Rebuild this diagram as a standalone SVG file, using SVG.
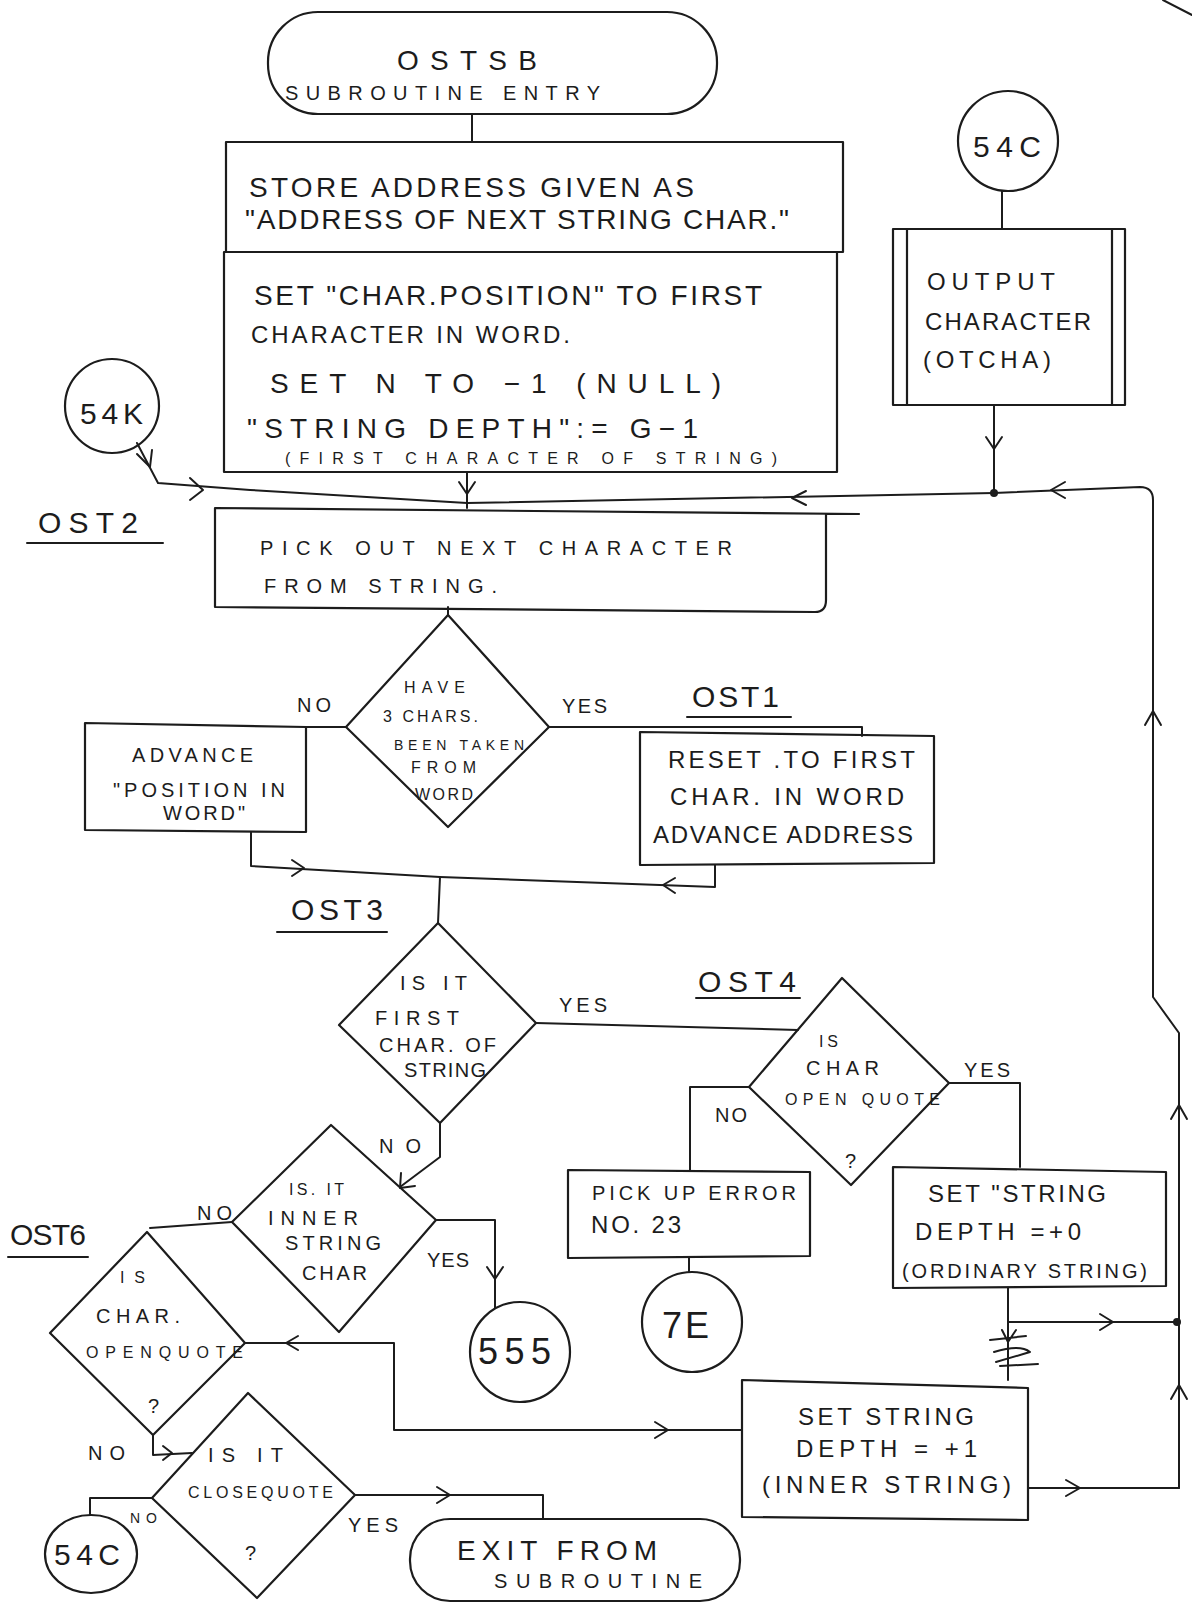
<svg xmlns="http://www.w3.org/2000/svg" width="1192" height="1603" viewBox="0 0 1192 1603">
<defs>
<style>
.s{fill:none;stroke:#1c1c1c;stroke-width:2.2;stroke-linejoin:round;stroke-linecap:round}
.c{fill:none;stroke:#1c1c1c;stroke-width:2;stroke-linejoin:round;stroke-linecap:round}
.dot{fill:#1c1c1c}
text{font-family:"Liberation Sans","DejaVu Sans",sans-serif;fill:#1c1c1c}
.lg{font-size:28px}
.md{font-size:24px}
.sm{font-size:20px}
.xs{font-size:16px}
.lab{font-size:30px}
.big{font-size:36px}
</style>
</defs>
<rect width="1192" height="1603" fill="#ffffff"/>
<path class="c" d="M1163,0 L1192,15"/>

<g id="entry">
<rect class="s" x="268" y="12" width="449" height="102" rx="50"/>
<text class="lg" x="397" y="70" textLength="140" lengthAdjust="spacing">OSTSB</text>
<text class="sm" x="285" y="100" textLength="315" lengthAdjust="spacing">SUBROUTINE ENTRY</text>
</g>

<g id="store">
<rect class="s" x="226" y="142" width="617" height="110"/>
<text class="lg" x="249" y="197" textLength="445" lengthAdjust="spacing">STORE ADDRESS GIVEN AS</text>
<text class="lg" x="245" y="229" textLength="544" lengthAdjust="spacing">"ADDRESS OF NEXT STRING CHAR."</text>
</g>

<g id="setpos">
<rect class="s" x="224" y="252" width="613" height="220"/>
<text class="lg" x="254" y="305" textLength="508" lengthAdjust="spacing">SET "CHAR.POSITION" TO FIRST</text>
<text class="md" x="251" y="343" textLength="319" lengthAdjust="spacing">CHARACTER IN WORD.</text>
<text class="lg" x="270" y="393" textLength="451" lengthAdjust="spacing">SET N TO −1 (NULL)</text>
<text class="lg" x="247" y="438" textLength="451" lengthAdjust="spacing">"STRING DEPTH":= G−1</text>
<text class="xs" x="285" y="464" textLength="492" lengthAdjust="spacing">(FIRST CHARACTER OF STRING)</text>
</g>

<g id="c54c_top">
<circle class="s" cx="1008" cy="141" r="50"/>
<text class="lab" x="973" y="157" textLength="68" lengthAdjust="spacing">54C</text>
</g>

<g id="output">
<rect class="s" x="893" y="229" width="232" height="176"/>
<path class="s" d="M907,229 V405 M1112,229 V405"/>
<text class="md" x="927" y="290" textLength="128" lengthAdjust="spacing">OUTPUT</text>
<text class="md" x="925" y="330" textLength="166" lengthAdjust="spacing">CHARACTER</text>
<text class="md" x="923" y="368" textLength="128" lengthAdjust="spacing">(OTCHA)</text>
</g>

<g id="c54k">
<circle class="s" cx="112" cy="406" r="47"/>
<text class="lab" x="80" y="424" textLength="63" lengthAdjust="spacing">54K</text>
</g>

<g id="ost2">
<text class="lab" x="38" y="533" textLength="100" lengthAdjust="spacing">OST2</text>
<path class="c" d="M27,543 H163"/>
</g>

<g id="pickout">
<path class="s" d="M215,508 L859,514 M215,508 V607 L815,612 Q826,612 826,600 V514"/>
<text class="sm" x="260" y="555" textLength="472" lengthAdjust="spacing">PICK OUT NEXT CHARACTER</text>
<text class="sm" x="264" y="593" textLength="233" lengthAdjust="spacing">FROM STRING.</text>
</g>

<g id="have3">
<path class="s" d="M448,615 L549,727 L448,827 L346,727 Z"/>
<text class="xs" x="404" y="693" textLength="61" lengthAdjust="spacing">HAVE</text>
<text class="xs" x="383" y="722" textLength="95" lengthAdjust="spacing">3 CHARS.</text>
<text style="font-size:14px" x="394" y="750" textLength="130" lengthAdjust="spacing">BEEN TAKEN</text>
<text class="xs" x="411" y="773" textLength="65" lengthAdjust="spacing">FROM</text>
<text class="xs" x="415" y="800" textLength="58" lengthAdjust="spacing">WORD</text>
</g>

<g id="advance">
<path class="s" d="M85,723 L306,727 V832 L85,830 Z"/>
<text class="sm" x="132" y="762" textLength="121" lengthAdjust="spacing">ADVANCE</text>
<text class="sm" x="113" y="797" textLength="172" lengthAdjust="spacing">"POSITION IN</text>
<text class="sm" x="163" y="820" textLength="82" lengthAdjust="spacing">WORD"</text>
</g>

<g id="ost1">
<text class="lab" x="692" y="707" textLength="87" lengthAdjust="spacing">OST1</text>
<path class="c" d="M687,717 H791"/>
</g>

<g id="reset">
<path class="s" d="M640,732 L934,736 V863 L640,865 Z"/>
<text class="md" x="668" y="768" textLength="247" lengthAdjust="spacing">RESET .TO FIRST</text>
<text class="md" x="670" y="805" textLength="234" lengthAdjust="spacing">CHAR. IN WORD</text>
<text class="md" x="653" y="843" textLength="260" lengthAdjust="spacing">ADVANCE ADDRESS</text>
</g>

<g id="ost3">
<text class="lab" x="291" y="920" textLength="92" lengthAdjust="spacing">OST3</text>
<path class="c" d="M277,932 H387"/>
</g>

<g id="firstchar">
<path class="s" d="M438,923 L536,1023 L440,1123 L339,1025 Z"/>
<text class="sm" x="400" y="990" textLength="67" lengthAdjust="spacing">IS IT</text>
<text class="sm" x="375" y="1025" textLength="84" lengthAdjust="spacing">FIRST</text>
<text class="sm" x="379" y="1052" textLength="117" lengthAdjust="spacing">CHAR. OF</text>
<text class="sm" x="404" y="1077" textLength="82" lengthAdjust="spacing">STRING</text>
</g>

<g id="ost4">
<text class="lab" x="698" y="992" textLength="98" lengthAdjust="spacing">OST4</text>
<path class="c" d="M696,998 H800"/>
</g>

<g id="openquote1">
<path class="s" d="M842,978 L949,1083 L851,1185 L749,1087 Z"/>
<text class="xs" x="819" y="1047" textLength="19" lengthAdjust="spacing">IS</text>
<text class="sm" x="806" y="1075" textLength="73" lengthAdjust="spacing">CHAR</text>
<text class="xs" x="785" y="1105" textLength="155" lengthAdjust="spacing">OPEN QUOTE</text>
<text class="sm" x="845" y="1168">?</text>
</g>

<g id="error">
<path class="s" d="M568,1170 L810,1172 V1256 L568,1258 Z"/>
<text class="sm" x="592" y="1200" textLength="204" lengthAdjust="spacing">PICK UP ERROR</text>
<text class="md" x="591" y="1233" textLength="90" lengthAdjust="spacing">NO. 23</text>
</g>

<g id="c7e">
<circle class="s" cx="692" cy="1322" r="50"/>
<text class="big" x="662" y="1338" textLength="47" lengthAdjust="spacing">7E</text>
</g>

<g id="depth0">
<path class="s" d="M893,1167 L1166,1172 V1286 L893,1288 Z"/>
<text class="md" x="928" y="1202" textLength="178" lengthAdjust="spacing">SET "STRING</text>
<text class="md" x="915" y="1240" textLength="166" lengthAdjust="spacing">DEPTH =+0</text>
<text class="sm" x="902" y="1278" textLength="245" lengthAdjust="spacing">(ORDINARY STRING)</text>
</g>

<g id="innerchar">
<path class="s" d="M331,1125 L436,1220 L339,1332 L232,1222 Z"/>
<text class="xs" x="289" y="1195" textLength="55" lengthAdjust="spacing">IS. IT</text>
<text class="sm" x="268" y="1225" textLength="90" lengthAdjust="spacing">INNER</text>
<text class="sm" x="285" y="1250" textLength="96" lengthAdjust="spacing">STRING</text>
<text class="sm" x="302" y="1280" textLength="65" lengthAdjust="spacing">CHAR</text>
</g>

<g id="ost6">
<text class="lab" x="10" y="1245" textLength="76" lengthAdjust="spacing">OST6</text>
<path class="c" d="M8,1257 H88"/>
</g>

<g id="c555">
<circle class="s" cx="520" cy="1352" r="50"/>
<text class="big" x="478" y="1364" textLength="73" lengthAdjust="spacing">555</text>
</g>

<g id="openquote2">
<path class="s" d="M147,1232 L245,1343 L153,1435 L50,1333 Z"/>
<text class="xs" x="120" y="1283" textLength="25" lengthAdjust="spacing">IS</text>
<text class="sm" x="96" y="1323" textLength="84" lengthAdjust="spacing">CHAR.</text>
<text class="xs" x="86" y="1358" textLength="157" lengthAdjust="spacing">OPENQUOTE</text>
<text class="sm" x="148" y="1413">?</text>
</g>

<g id="closequote">
<path class="s" d="M248,1393 L355,1495 L257,1598 L152,1498 Z"/>
<text class="sm" x="208" y="1462" textLength="75" lengthAdjust="spacing">IS IT</text>
<text class="xs" x="188" y="1498" textLength="145" lengthAdjust="spacing">CLOSEQUOTE</text>
<text class="sm" x="245" y="1560">?</text>
</g>

<g id="c54c_bottom">
<ellipse class="s" cx="91" cy="1554" rx="46" ry="39"/>
<text class="lab" x="54" y="1565" textLength="66" lengthAdjust="spacing">54C</text>
</g>

<g id="exit">
<rect class="s" x="410" y="1519" width="330" height="82" rx="40"/>
<text class="lg" x="457" y="1560" textLength="200" lengthAdjust="spacing">EXIT FROM</text>
<text class="sm" x="494" y="1588" textLength="208" lengthAdjust="spacing">SUBROUTINE</text>
</g>

<g id="depth1">
<path class="s" d="M742,1380 L1028,1388 V1520 L742,1517 Z"/>
<text class="md" x="798" y="1425" textLength="176" lengthAdjust="spacing">SET STRING</text>
<text class="md" x="796" y="1457" textLength="181" lengthAdjust="spacing">DEPTH = +1</text>
<text class="md" x="762" y="1493" textLength="249" lengthAdjust="spacing">(INNER STRING)</text>
</g>

<g id="labels">
<text class="sm" x="297" y="712" textLength="34" lengthAdjust="spacing">NO</text>
<text class="sm" x="562" y="713" textLength="45" lengthAdjust="spacing">YES</text>
<text class="sm" x="559" y="1012" textLength="48" lengthAdjust="spacing">YES</text>
<text class="sm" x="379" y="1153" textLength="42" lengthAdjust="spacing">NO</text>
<text class="sm" x="964" y="1077" textLength="46" lengthAdjust="spacing">YES</text>
<text class="sm" x="715" y="1122" textLength="32" lengthAdjust="spacing">NO</text>
<text class="sm" x="197" y="1220" textLength="35" lengthAdjust="spacing">NO</text>
<text class="sm" x="427" y="1267" textLength="42" lengthAdjust="spacing">YES</text>
<text class="sm" x="88" y="1460" textLength="37" lengthAdjust="spacing">NO</text>
<text style="font-size:14px" x="130" y="1523" textLength="27" lengthAdjust="spacing">NO</text>
<text class="sm" x="348" y="1532" textLength="50" lengthAdjust="spacing">YES</text>
</g>

<g id="connectors">
<path class="c" d="M472,114 V142"/>
<path class="c" d="M1002,191 V229"/>
<path class="c" d="M994,405 V493"/>
<path class="c" d="M986,437 L994,449 L1002,437"/>
<path class="c" d="M1179,1488 V1033 L1153,997 V500 Q1153,487 1140,487 L994,493 L467,503"/>
<path class="c" d="M1145,725 L1153,711 L1161,725"/>
<path class="c" d="M1171,1119 L1179,1105 L1187,1119"/>
<path class="c" d="M1171,1399 L1179,1385 L1187,1399"/>
<path class="c" d="M1065,482 L1051,490 L1065,498"/>
<path class="c" d="M806,491 L792,498 L806,505"/>
<path class="c" d="M467,472 V508"/>
<path class="c" d="M459,482 L467,494 L475,482"/>
<path class="c" d="M137,443 L158,483 L250,490 L467,503"/>
<path class="c" d="M137,454 L150,467 L152,450"/>
<path class="c" d="M190,478 L203,490 L190,500"/>
<path class="c" d="M448,607 V615"/>
<path class="c" d="M346,727 H306"/>
<path class="c" d="M549,727 H862 V736"/>
<path class="c" d="M251,832 V866 L440,877"/>
<path class="c" d="M292,860 L304,868 L292,876"/>
<path class="c" d="M715,865 V887 L440,877"/>
<path class="c" d="M675,878 L663,885 L675,893"/>
<path class="c" d="M440,877 L438,923"/>
<path class="c" d="M536,1023 L798,1030"/>
<path class="c" d="M440,1123 L440,1157 L400,1187"/>
<path class="c" d="M401,1173 L400,1188 L415,1186"/>
<path class="c" d="M232,1222 L150,1228"/>
<path class="c" d="M436,1220 H495 V1308"/>
<path class="c" d="M487,1267 L495,1279 L503,1267"/>
<path class="c" d="M749,1087 H690 V1170"/>
<path class="c" d="M949,1083 H1020 V1167"/>
<path class="c" d="M689,1258 V1272"/>
<path class="c" d="M1008,1288 V1380"/>
<path class="c" d="M1008,1322 H1176"/>
<path class="c" d="M1100,1314 L1113,1322 L1100,1330"/>
<path class="c" d="M990,1340 L1026,1336 M994,1352 Q1020,1344 1030,1352 Q1010,1358 996,1362 M1000,1366 L1038,1364 M1002,1330 L1008,1342 L1016,1330"/>
<path class="c" d="M1028,1488 H1179"/>
<path class="c" d="M1066,1480 L1080,1488 L1066,1496"/>
<path class="c" d="M245,1343 H394 V1430 H742"/>
<path class="c" d="M298,1336 L286,1343 L298,1350"/>
<path class="c" d="M655,1422 L668,1430 L655,1438"/>
<path class="c" d="M153,1435 V1455 L192,1453"/>
<path class="c" d="M163,1446 L172,1453 L163,1460"/>
<path class="c" d="M152,1498 H90 V1515"/>
<path class="c" d="M355,1495 H543 V1519"/>
<path class="c" d="M437,1487 L450,1495 L437,1503"/>
<circle class="dot" cx="994" cy="493" r="4"/>
<circle class="dot" cx="1177" cy="1322" r="4"/>
</g>
</svg>
